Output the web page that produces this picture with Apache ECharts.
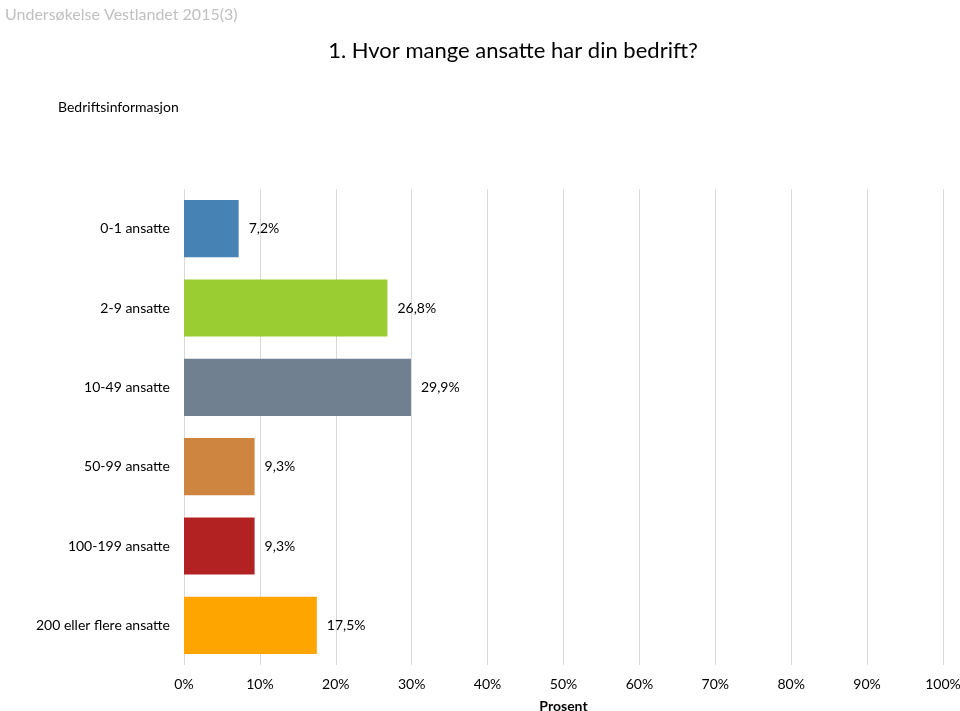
<!DOCTYPE html>
<html><head><meta charset="utf-8">
<script src="https://cdn.jsdelivr.net/npm/echarts@6/dist/echarts.min.js"></script>
<style>html,body{margin:0;padding:0;background:#fff}#c{width:960px;height:711px}</style>
</head><body><div id="c"></div>
<script>
const categories = ['0-1 ansatte','2-9 ansatte','10-49 ansatte','50-99 ansatte','100-199 ansatte','200 eller flere ansatte'];
const values = [7.2, 26.8, 29.9, 9.3, 9.3, 17.5];
const colors = ['#4682B4','#9ACD32','#708090','#CD853F','#B22222','#FFA500'];
const xTicks = [0,10,20,30,40,50,60,70,80,90,100];

const font = 'Lato, "Open Sans", sans-serif';
const chart = echarts.init(document.getElementById('c'));
chart.setOption({
  animation: false,
  title: [
    {text: 'Undersøkelse Vestlandet 2015(3)', left: 0, top: 2, textStyle: {color: '#c0c0c0', fontSize: 16, fontWeight: 'normal', fontFamily: 'Lato, sans-serif'}},
    {text: '1. Hvor mange ansatte har din bedrift?', left: 508, textAlign: 'center', top: 35, textStyle: {color: '#000', fontSize: 22, fontWeight: 'normal', fontFamily: font}},
    {text: 'Bedriftsinformasjon', left: 53, top: 95, textStyle: {color: '#000', fontSize: 14, fontWeight: 'normal', fontFamily: font}}
  ],
  grid: {left: 184, right: 17, top: 189, bottom: 46, containLabel: false, outerBoundsMode: 'none'},
  xAxis: {
    type: 'value', min: 0, max: 100, interval: 10,
    name: 'Prosent', nameLocation: 'middle', nameGap: 34,
    nameTextStyle: {fontWeight: 'bold', fontSize: 14, color: '#000', fontFamily: font},
    axisLine: {show: false}, axisTick: {show: false},
    axisLabel: {formatter: v => v + '%', color: '#000', fontSize: 14, margin: 12, fontFamily: font},
    splitLine: {show: true, lineStyle: {color: '#d9d9d9', width: 1}}
  },
  yAxis: {
    type: 'category', data: categories, inverse: true,
    axisLine: {show: false}, axisTick: {show: false},
    axisLabel: {color: '#000', fontSize: 14, margin: 14, fontFamily: font}
  },
  series: [{
    type: 'bar', barWidth: '72%',
    data: values.map((v, i) => ({value: v, itemStyle: {color: colors[i]}})),
    label: {show: true, position: 'right', distance: 10, color: '#000', fontSize: 14, fontFamily: font,
      formatter: p => p.value.toFixed(1).replace('.', ',') + '%'}
  }]
});
</script></body></html>
